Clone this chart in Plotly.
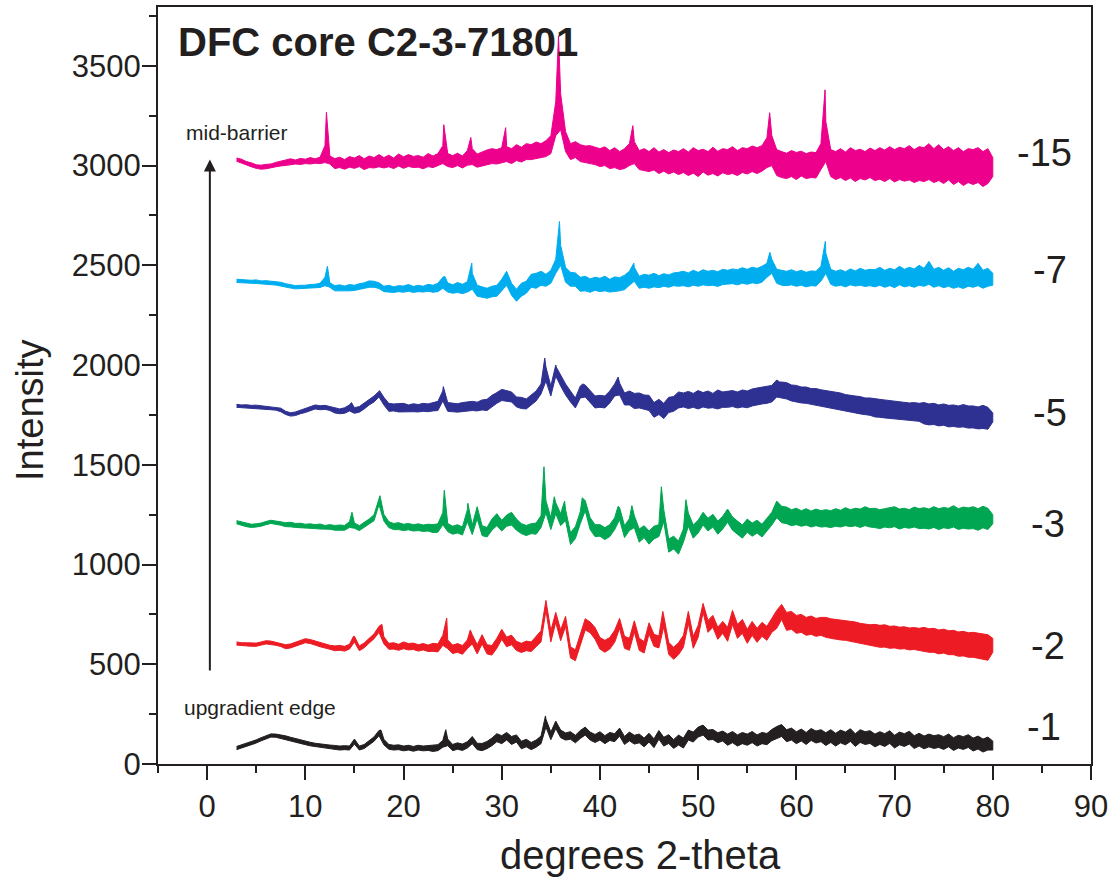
import numpy as np
import plotly.graph_objects as go

# XRD scans, DFC core C2-3-71801; 2-theta sampled every 0.5 degree from 3 to 80.
# Each scan is stored as the upper (HI) and lower (LO) edge of its noise band,
# already offset by depth, plus the sharp reflections (PK) that rise above it.
SCAN_START, SCAN_STOP, SCAN_STEP = 3.0, 80.0, 0.5

HI15 = [3038, 3032, 3020, 3014, 3004, 3002, 3006, 3008, 3016, 3022,
        3030, 3034, 3028, 3036, 3032, 3040, 3034, 3042, 3100, 3048,
        3035, 3042, 3030, 3045, 3038, 3050, 3034, 3048, 3040, 3055,
        3040, 3052, 3038, 3058, 3044, 3055, 3046, 3050, 3042, 3060,
        3048, 3060, 3100, 3060, 3050, 3062, 3048, 3075, 3085, 3058,
        3070, 3078, 3085, 3080, 3090, 3095, 3085, 3105, 3092, 3110,
        3105, 3118, 3110, 3125, 3150, 3320, 3360, 3170, 3110, 3120,
        3105, 3098, 3100, 3092, 3085, 3094, 3075, 3090, 3070, 3085,
        3110, 3120, 3075, 3085, 3070, 3090, 3068, 3080, 3065, 3078,
        3070, 3085, 3068, 3090, 3075, 3082, 3070, 3092, 3072, 3085,
        3080, 3095, 3075, 3090, 3085, 3098, 3090, 3100, 3140, 3150,
        3080, 3070, 3062, 3075, 3066, 3072, 3060, 3068, 3065, 3110,
        3220, 3080, 3070, 3085, 3068, 3090, 3075, 3082, 3070, 3088,
        3075, 3090, 3078, 3095, 3080, 3092, 3085, 3100, 3080, 3095,
        3090, 3110, 3085, 3105, 3080, 3095, 3075, 3090, 3070, 3085,
        3080, 3090, 3070, 3085, 3040]
LO15 = [3022, 3012, 3004, 2994, 2986, 2982, 2984, 2988, 2994, 2998,
        3002, 3004, 3008, 3006, 3010, 3008, 3012, 3010, 3015, 3008,
        2985, 2990, 2982, 2992, 2986, 2995, 2980, 2990, 2988, 2994,
        2988, 2994, 2985, 2998, 2986, 2996, 2990, 2992, 2984, 2995,
        2990, 2998, 3010, 2995, 2990, 3000, 2988, 3002, 3005, 2992,
        3000, 3005, 3010, 3008, 3015, 3020, 3010, 3025, 3018, 3030,
        3030, 3035, 3040, 3045, 3060, 3150, 3180, 3070, 3030, 3040,
        3020, 3015, 3010, 3005, 2995, 3000, 2985, 2990, 2980, 2985,
        3000, 3010, 2980, 2975, 2970, 2978, 2960, 2972, 2958, 2968,
        2955, 2965, 2950, 2962, 2945, 2968, 2952, 2960, 2948, 2964,
        2955, 2960, 2950, 2965, 2958, 2970, 2960, 2972, 2990, 3000,
        2950, 2940, 2935, 2945, 2930, 2948, 2935, 2940, 2938, 2980,
        3020, 2945, 2930, 2940, 2925, 2938, 2920, 2935, 2928, 2940,
        2925, 2932, 2920, 2935, 2918, 2930, 2922, 2928, 2915, 2925,
        2920, 2930, 2915, 2925, 2910, 2928, 2905, 2920, 2900, 2915,
        2905, 2915, 2895, 2910, 2945]
PK15 = [(12.15, 3267), (24.1, 3205), (26.85, 3141), (30.4, 3190),
        (35.78, 3650), (43.35, 3200), (57.28, 3265), (62.92, 3380)]

HI7 = [2430, 2428, 2429, 2425, 2427, 2422, 2423, 2420, 2418, 2415,
       2408, 2404, 2398, 2400, 2400, 2404, 2405, 2410, 2440, 2412,
       2398, 2402, 2396, 2404, 2400, 2408, 2412, 2422, 2420, 2412,
       2395, 2400, 2392, 2398, 2396, 2404, 2394, 2400, 2395, 2405,
       2400, 2410, 2440, 2412, 2402, 2414, 2405, 2418, 2460, 2400,
       2392, 2385, 2395, 2400, 2430, 2470, 2410, 2380, 2410, 2420,
       2455, 2460, 2470, 2455, 2475, 2530, 2600, 2490, 2465, 2462,
       2440, 2445, 2432, 2440, 2435, 2445, 2430, 2442, 2438, 2450,
       2470, 2490, 2445, 2455, 2450, 2460, 2448, 2458, 2452, 2462,
       2465, 2470, 2462, 2475, 2465, 2478, 2470, 2475, 2468, 2480,
       2475, 2482, 2478, 2488, 2480, 2490, 2485, 2495, 2510, 2530,
       2480, 2475, 2470, 2478, 2468, 2475, 2465, 2472, 2470, 2495,
       2560, 2480, 2470, 2478, 2468, 2482, 2472, 2485, 2475, 2480,
       2478, 2490, 2475, 2485, 2478, 2495, 2480, 2490, 2482, 2500,
       2485, 2520, 2480, 2490, 2475, 2488, 2470, 2485, 2478, 2490,
       2480, 2510, 2475, 2485, 2460]
LO7 = [2414, 2411, 2412, 2410, 2409, 2407, 2406, 2403, 2401, 2398,
       2392, 2386, 2382, 2381, 2383, 2385, 2387, 2389, 2398, 2390,
       2372, 2370, 2371, 2372, 2374, 2378, 2384, 2390, 2390, 2384,
       2368, 2366, 2364, 2368, 2365, 2370, 2364, 2368, 2366, 2370,
       2365, 2368, 2385, 2366, 2360, 2364, 2358, 2366, 2380, 2345,
       2340, 2335, 2342, 2345, 2370, 2400, 2350, 2320, 2345, 2360,
       2390, 2385, 2400, 2395, 2410, 2460, 2500, 2415, 2395, 2395,
       2370, 2372, 2365, 2375, 2368, 2372, 2366, 2370, 2372, 2378,
       2400, 2420, 2385, 2390, 2385, 2392, 2388, 2395, 2390, 2398,
       2395, 2398, 2392, 2400, 2395, 2402, 2398, 2400, 2394, 2404,
       2405, 2408, 2402, 2410, 2405, 2412, 2408, 2415, 2440, 2460,
       2410, 2400, 2398, 2402, 2395, 2400, 2392, 2398, 2396, 2420,
       2460, 2405, 2395, 2400, 2392, 2402, 2396, 2400, 2394, 2398,
       2392, 2400, 2390, 2398, 2388, 2402, 2392, 2398, 2390, 2400,
       2395, 2405, 2390, 2398, 2388, 2395, 2385, 2392, 2384, 2395,
       2390, 2398, 2385, 2395, 2400]
PK7 = [(12.25, 2495), (24.2, 2445), (26.95, 2511), (35.88, 2720),
       (43.45, 2511), (57.3, 2565), (62.95, 2620)]

HI5 = [1803, 1800, 1801, 1798, 1799, 1796, 1795, 1792, 1790, 1784,
       1768, 1761, 1765, 1774, 1782, 1790, 1800, 1796, 1798, 1792,
       1785, 1780, 1786, 1800, 1786, 1792, 1810, 1830, 1845, 1868,
       1838, 1808, 1805, 1805, 1808, 1800, 1806, 1802, 1808, 1805,
       1810, 1818, 1870, 1812, 1808, 1806, 1812, 1815, 1818, 1814,
       1825, 1828, 1848, 1862, 1878, 1872, 1865, 1840, 1838, 1830,
       1850, 1870, 1905, 1990, 1895, 2000, 1950, 1905, 1870, 1835,
       1895, 1900, 1870, 1845, 1848, 1845, 1870, 1905, 1910, 1860,
       1870, 1858, 1860, 1850, 1848, 1812, 1828, 1808, 1838, 1842,
       1865, 1860, 1868, 1858, 1872, 1862, 1870, 1858, 1875, 1865,
       1868, 1872, 1865, 1875, 1870, 1880, 1885, 1890, 1892, 1898,
       1925, 1915, 1912, 1900, 1898, 1890, 1890, 1882, 1882, 1876,
       1872, 1868, 1862, 1860, 1852, 1850, 1845, 1842, 1835, 1835,
       1830, 1828, 1825, 1822, 1820, 1815, 1815, 1810, 1812, 1808,
       1812, 1805, 1808, 1800, 1805, 1798, 1800, 1795, 1802, 1795,
       1795, 1790, 1798, 1788, 1760]
LO5 = [1788, 1785, 1784, 1782, 1782, 1780, 1778, 1776, 1774, 1766,
       1752, 1744, 1747, 1756, 1762, 1770, 1780, 1776, 1778, 1772,
       1760, 1756, 1758, 1770, 1758, 1764, 1780, 1800, 1815, 1840,
       1800, 1768, 1770, 1765, 1768, 1766, 1766, 1765, 1768, 1766,
       1770, 1772, 1820, 1768, 1766, 1764, 1768, 1770, 1772, 1770,
       1775, 1772, 1792, 1808, 1822, 1818, 1815, 1790, 1782, 1780,
       1800, 1820, 1855, 1920, 1845, 1945, 1895, 1850, 1815, 1785,
       1835, 1840, 1810, 1785, 1788, 1785, 1810, 1845, 1850, 1800,
       1800, 1782, 1785, 1778, 1772, 1738, 1752, 1732, 1762, 1768,
       1785, 1790, 1782, 1788, 1780, 1790, 1784, 1786, 1780, 1788,
       1788, 1792, 1785, 1790, 1786, 1795, 1800, 1805, 1808, 1815,
       1840, 1835, 1830, 1820, 1815, 1810, 1808, 1802, 1800, 1795,
       1790, 1785, 1780, 1775, 1770, 1765, 1760, 1755, 1750, 1748,
       1740, 1738, 1735, 1732, 1730, 1728, 1725, 1722, 1720, 1718,
       1705, 1700, 1702, 1695, 1698, 1690, 1692, 1688, 1690, 1684,
       1685, 1680, 1682, 1678, 1715]
PK5 = [(14.7, 1812), (17.55, 1872), (24.05, 1892), (34.38, 2035),
       (35.55, 1990), (38.25, 1905), (41.85, 1940), (58.3, 1915)]

HI3 = [1220, 1213, 1206, 1202, 1204, 1208, 1216, 1222, 1218, 1213,
       1210, 1212, 1206, 1207, 1202, 1204, 1200, 1203, 1196, 1200,
       1196, 1198, 1196, 1215, 1208, 1195, 1212, 1228, 1250, 1335,
       1252, 1215, 1206, 1210, 1202, 1206, 1200, 1204, 1198, 1202,
       1200, 1204, 1260, 1206, 1192, 1200, 1188, 1275, 1198, 1290,
       1195, 1186, 1228, 1255, 1222, 1248, 1262, 1228, 1205, 1196,
       1205, 1208, 1245, 1320, 1235, 1310, 1255, 1275, 1160, 1190,
       1265, 1320, 1235, 1200, 1200, 1185, 1200, 1235, 1285, 1195,
       1230, 1245, 1178, 1195, 1168, 1192, 1200, 1275, 1128, 1142,
       1118, 1178, 1258, 1198, 1222, 1262, 1232, 1252, 1218, 1242,
       1278, 1238, 1218, 1198, 1228, 1208, 1222, 1202, 1232, 1262,
       1318, 1292, 1288, 1275, 1282, 1270, 1280, 1268, 1278, 1270,
       1275, 1270, 1280, 1272, 1285, 1275, 1282, 1278, 1290, 1280,
       1282, 1275, 1280, 1285, 1290, 1278, 1282, 1275, 1288, 1280,
       1285, 1278, 1290, 1280, 1286, 1282, 1295, 1280, 1288, 1284,
       1290, 1280, 1292, 1282, 1250]
LO3 = [1204, 1197, 1190, 1186, 1188, 1192, 1200, 1206, 1202, 1197,
       1190, 1189, 1186, 1184, 1182, 1181, 1180, 1178, 1176, 1177,
       1172, 1173, 1172, 1186, 1182, 1170, 1188, 1202, 1220, 1300,
       1218, 1185, 1175, 1175, 1170, 1174, 1168, 1170, 1166, 1168,
       1160, 1162, 1200, 1165, 1152, 1158, 1148, 1215, 1150, 1230,
       1145, 1138, 1172, 1195, 1168, 1192, 1198, 1172, 1155, 1145,
       1155, 1152, 1185, 1260, 1175, 1255, 1195, 1220, 1100, 1130,
       1205, 1270, 1175, 1140, 1142, 1125, 1140, 1175, 1225, 1135,
       1170, 1185, 1112, 1135, 1102, 1128, 1140, 1215, 1062, 1078,
       1052, 1112, 1192, 1132, 1158, 1198, 1168, 1188, 1152, 1178,
       1212, 1172, 1152, 1132, 1162, 1142, 1158, 1138, 1168, 1198,
       1235, 1210, 1205, 1195, 1200, 1192, 1198, 1188, 1195, 1188,
       1190, 1185, 1192, 1188, 1195, 1190, 1194, 1186, 1195, 1188,
       1185, 1180, 1188, 1184, 1190, 1178, 1186, 1182, 1188, 1180,
       1182, 1178, 1186, 1175, 1184, 1180, 1188, 1176, 1182, 1178,
       1180, 1172, 1184, 1175, 1205]
PK3 = [(14.75, 1262), (17.6, 1345), (24.15, 1372), (26.55, 1307),
       (34.3, 1490), (35.35, 1340), (36.4, 1318), (38.2, 1335),
       (41.85, 1292), (43.25, 1295), (46.25, 1390), (48.75, 1325)]

HI2 = [612, 608, 608, 606, 606, 612, 618, 616, 611, 605,
       598, 602, 610, 620, 628, 624, 616, 608, 600, 595,
       592, 594, 590, 600, 640, 592, 607, 630, 652, 690,
       638, 605, 608, 600, 612, 604, 606, 598, 604, 596,
       605, 602, 645, 622, 596, 604, 594, 622, 648, 598,
       648, 598, 594, 630, 675, 636, 646, 615, 605, 616,
       612, 638, 668, 820, 668, 760, 672, 740, 588, 572,
       655, 728, 712, 684, 634, 620, 634, 670, 730, 640,
       630, 718, 630, 614, 708, 650, 642, 742, 610, 585,
       608, 645, 765, 640, 695, 805, 720, 745, 685, 715,
       685, 770, 700, 725, 675, 715, 680, 710, 690, 730,
       770, 800, 760, 765, 745, 750, 735, 742, 730, 735,
       735, 728, 725, 722, 720, 718, 712, 705, 700, 698,
       700, 695, 698, 690, 692, 686, 688, 682, 684, 680,
       685, 678, 680, 672, 676, 668, 670, 662, 665, 658,
       660, 655, 652, 648, 630]
LO2 = [596, 592, 592, 590, 590, 596, 602, 600, 595, 589,
       578, 582, 590, 600, 608, 604, 596, 588, 580, 575,
       568, 570, 566, 576, 612, 568, 583, 606, 628, 660,
       602, 575, 576, 570, 578, 572, 574, 566, 572, 564,
       565, 562, 595, 578, 554, 560, 550, 578, 602, 552,
       602, 552, 546, 580, 625, 588, 598, 569, 559, 568,
       564, 586, 612, 770, 612, 710, 618, 690, 532, 518,
       595, 672, 658, 626, 576, 560, 576, 610, 680, 580,
       570, 662, 570, 556, 652, 590, 582, 688, 550, 525,
       548, 585, 705, 580, 635, 760, 660, 685, 625, 655,
       615, 700, 630, 655, 605, 645, 610, 640, 620, 660,
       680, 725, 670, 675, 655, 660, 645, 650, 640, 645,
       635, 630, 625, 622, 620, 618, 610, 605, 600, 598,
       590, 585, 586, 580, 582, 576, 578, 572, 574, 568,
       565, 560, 560, 552, 556, 548, 548, 540, 542, 535,
       535, 528, 525, 520, 560]
PK2 = [(14.9, 640), (17.8, 700), (24.4, 732), (26.8, 672),
       (46.4, 765), (48.9, 756)]

HI1 = [88, 96, 104, 112, 121, 132, 143, 151, 150, 146,
       141, 134, 127, 121, 115, 109, 104, 100, 97, 95,
       93, 90, 92, 90, 125, 90, 98, 118, 136, 168,
       124, 98, 94, 96, 90, 94, 88, 94, 90, 92,
       93, 97, 118, 125, 98, 106, 100, 112, 138, 104,
       103, 113, 130, 152, 142, 158, 138, 146, 114, 124,
       108, 120, 140, 225, 160, 215, 170, 156, 162, 144,
       168, 185, 160, 148, 162, 142, 158, 152, 180, 138,
       160, 144, 150, 130, 154, 126, 168, 134, 147, 122,
       145, 130, 170, 160, 185, 195, 170, 173, 157, 165,
       150, 163, 146, 158, 150, 163, 146, 158, 153, 173,
       188, 198, 172, 180, 162, 175, 158, 178, 165, 172,
       157, 172, 154, 170, 160, 177, 152, 172, 162, 167,
       150, 162, 152, 167, 144, 160, 152, 164, 142, 154,
       140, 150, 142, 147, 137, 150, 132, 144, 137, 147,
       130, 140, 125, 135, 115]
LO1 = [72, 80, 88, 96, 105, 116, 127, 135, 134, 130,
       123, 116, 109, 103, 97, 91, 86, 82, 79, 77,
       73, 70, 72, 70, 100, 70, 78, 98, 114, 142,
       96, 74, 70, 72, 66, 70, 64, 70, 66, 68,
       63, 67, 84, 92, 67, 74, 68, 80, 102, 72,
       67, 77, 92, 112, 102, 120, 98, 110, 76, 86,
       72, 84, 102, 185, 122, 178, 132, 120, 124, 106,
       128, 145, 120, 108, 120, 102, 118, 112, 140, 98,
       116, 100, 106, 86, 110, 82, 124, 90, 103, 78,
       95, 80, 120, 110, 135, 145, 120, 123, 107, 115,
       94, 107, 90, 102, 94, 107, 90, 102, 97, 117,
       128, 138, 112, 120, 102, 115, 98, 118, 105, 112,
       93, 108, 90, 106, 96, 113, 88, 108, 98, 103,
       86, 98, 88, 103, 80, 96, 88, 100, 78, 90,
       76, 86, 78, 83, 73, 86, 68, 80, 73, 83,
       65, 75, 60, 70, 70]
PK1 = [(17.7, 170), (24.3, 172), (34.45, 241), (35.4, 212)]

DEPTHS = ["-15", "-7", "-5", "-3", "-2", "-1"]
COLORS = ["#EC008C", "#00AEEF", "#2E3192", "#00A651", "#ED1C24", "#231F20"]
UPPER = [HI15, HI7, HI5, HI3, HI2, HI1]
LOWER = [LO15, LO7, LO5, LO3, LO2, LO1]
PEAKS = [PK15, PK7, PK5, PK3, PK2, PK1]
# depth label anchor (2-theta, counts)
LABEL_POS = [(85.3, 3064), (85.8, 2477), (85.8, 1760), (85.6, 1204), (85.6, 592), (85.2, 186)]

INK = "#231F20"
FONT = "Arial, Liberation Sans, Helvetica, sans-serif"

grid = np.arange(SCAN_START, SCAN_STOP + SCAN_STEP / 2, SCAN_STEP)

fig = go.Figure()
for hi, lo, pk, col in zip(UPPER, LOWER, PEAKS, COLORS):
    assert len(hi) == len(grid) and len(lo) == len(grid)
    # top edge with reflections merged in, then the lower edge walked back
    xt = np.concatenate([grid, [p[0] for p in pk]])
    yt = np.concatenate([np.array(hi, float), [p[1] for p in pk]])
    order = np.argsort(xt, kind="stable")
    xs = np.concatenate([xt[order], grid[::-1]])
    ys = np.concatenate([yt[order], np.array(lo, float)[::-1]])
    fig.add_trace(go.Scatter(x=xs, y=ys, mode="lines", fill="toself",
                             fillcolor=col, line=dict(color=col, width=1),
                             showlegend=False, hoverinfo="skip"))

ann = []
for lab, (lx, ly) in zip(DEPTHS, LABEL_POS):
    ann.append(dict(x=lx, y=ly, xref="x", yref="y", text=lab, showarrow=False,
                    xanchor="center", yanchor="middle",
                    font=dict(family=FONT, size=38, color=INK)))

# depth arrow from upgradient edge to mid-barrier
ann.append(dict(x=0.28, y=3030, ax=0.28, ay=461, xref="x", yref="y",
                axref="x", ayref="y", text="", showarrow=True,
                arrowhead=2, arrowsize=1.2, arrowwidth=2, arrowcolor=INK))

W, H = 1117, 879
L, R, T, B = 158, 26, 7, 115
PW, PH = W - L - R, H - T - B


def px(xp, yp):
    """pixel position in the page -> paper fractions"""
    return (xp - L) / PW, (H - B - yp) / PH


for text, (xp, yp), size, extra in [
    ("mid-barrier", (236.5, 132), 21, {}),
    ("upgradient edge", (260, 707), 21, {}),
    ("degrees 2-theta", (640, 855), 40, {}),
    ("Intensity", (30, 410), 38, {"textangle": -90}),
]:
    xf, yf = px(xp, yp)
    ann.append(dict(x=xf, y=yf, xref="paper", yref="paper", text=text,
                    showarrow=False, xanchor="center", yanchor="middle",
                    font=dict(family=FONT, size=size, color=INK), **extra))

xf, yf = px(176, 42)
ann.append(dict(x=xf, y=yf, xref="paper", yref="paper", text="<b>DFC core C2-3-71801</b>",
                showarrow=False, xanchor="left", yanchor="middle",
                font=dict(family=FONT, size=40, color=INK)))

axis_common = dict(showline=True, linewidth=2, linecolor=INK, mirror=True,
                   ticks="outside", tickwidth=2, tickcolor=INK, ticklen=14,
                   showgrid=False, zeroline=False,
                   tickfont=dict(family=FONT, size=31, color=INK))

fig.update_layout(
    width=W, height=H,
    margin=dict(l=L, r=R, t=T, b=B, autoexpand=False),
    paper_bgcolor="white", plot_bgcolor="white",
    xaxis=dict(range=[-5, 90], tickvals=list(range(0, 91, 10)),
               minor=dict(dtick=5, tick0=0, ticks="outside", ticklen=7, tickwidth=2, tickcolor=INK),
               **axis_common),
    yaxis=dict(range=[0, 3795], tickvals=list(range(0, 3501, 500)),
               ticklabelstandoff=-5,
               minor=dict(dtick=250, tick0=0, ticks="outside", ticklen=7, tickwidth=2, tickcolor=INK),
               **axis_common),
    annotations=ann,
)

fig.write_html("out.html")
